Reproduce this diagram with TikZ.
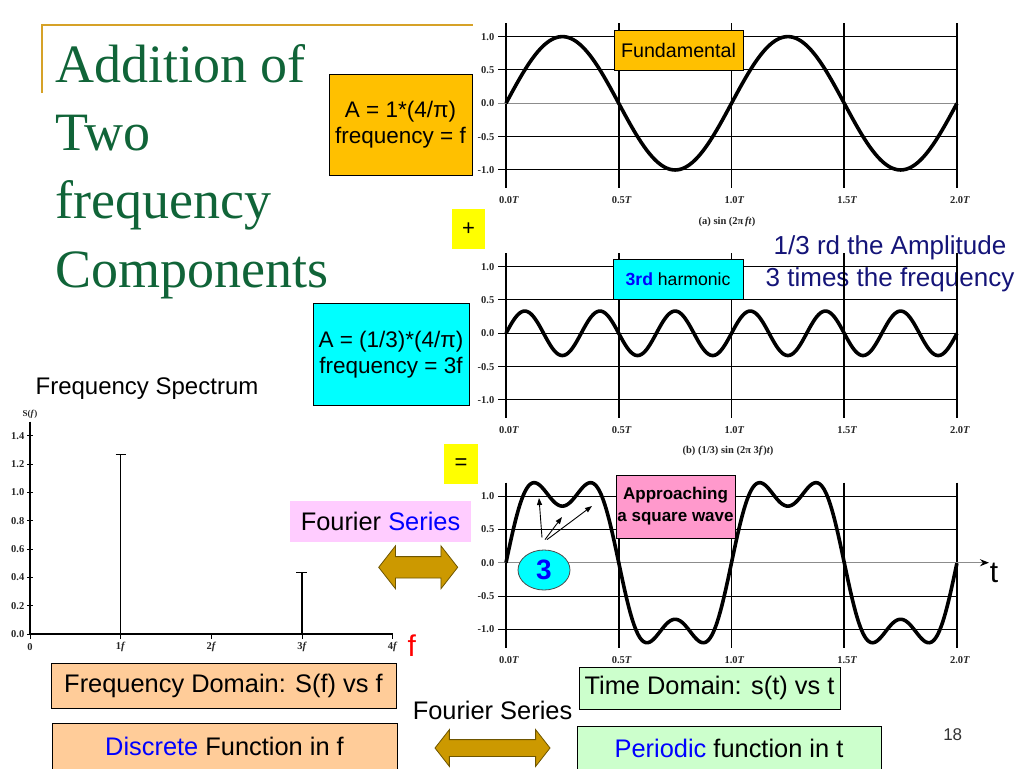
\documentclass[tikz,border=0pt]{standalone}
\usepackage{fontspec}
\setsansfont{Liberation Sans}
\newfontfamily\plotfont{Liberation Serif}
\usepackage{tikz}
\usetikzlibrary{arrows.meta,calc,positioning,shapes.arrows,shapes.geometric}
\tikzset{
  box/.style = {draw=black, line width=0.8pt, inner sep=0pt, align=center, font=\sffamily},
  f_mid/.style = {font=\sffamily\fontsize{22.5}{26.3}\selectfont},
  f_big/.style = {font=\sffamily\fontsize{25.4}{30}\selectfont},
  ticklab/.style = {inner sep=0.5pt, text=black!85, font=\plotfont\bfseries\fontsize{10.5}{12}\selectfont},
  title/.style = {inner sep=0pt, text=my_green, font=\plotfont\fontsize{54}{60}\selectfont}
}
\definecolor{my_green}{RGB}{16,100,56}
\definecolor{my_gold}{RGB}{214,162,40}
\definecolor{my_orange}{RGB}{255,192,0}
\definecolor{my_cyan}{RGB}{0,255,255}
\definecolor{my_yellow}{RGB}{255,255,0}
\definecolor{my_pink}{RGB}{255,204,255}
\definecolor{my_rose}{RGB}{255,153,204}
\definecolor{my_peach}{RGB}{255,204,153}
\definecolor{my_mint}{RGB}{204,255,204}
\definecolor{my_navy}{RGB}{20,20,120}
\definecolor{my_blue}{RGB}{0,0,255}
\definecolor{my_red}{RGB}{255,0,0}
\definecolor{my_brass}{RGB}{204,153,0}
\definecolor{my_brown}{RGB}{110,85,0}

\begin{document}
\begin{tikzpicture}[x=1pt,y=-1pt,
    wave/.style={line width=3.6pt, line join=round},
    fat_arrow/.style={shape=double arrow, draw=my_brown, fill=my_brass, line width=0.8pt,
      inner sep=0pt, double arrow tip angle=104},
    ptr/.style={-{Triangle[length=7pt,width=5pt]}, line width=0.9pt}]
\useasboundingbox (0,0) rectangle (1024,768);

% title
\draw[my_gold, line width=1.5pt] (42,93) -- (42,25) -- (473,25);
\node[title, anchor=base west] (ttl_a) at (55,82) {Addition of};
\node[title, anchor=base west] (ttl_b) at (55,150) {Two};
\node[title, anchor=base west] (ttl_c) at (55,218) {frequency};
\node[title, anchor=base west] (ttl_d) at (55,287) {Components};

% note on the harmonic
\node[text=my_navy, align=center, inner sep=0pt, font=\sffamily\fontsize{26}{32}\selectfont]
  (note_h) at (890,264) {1/3 rd the Amplitude\\3 times the frequency};

% the three time plots
\foreach \p/\yc in {1/103.3,2/333.3,3/562.7}{
  \foreach \k/\lab in {-2/1.0,-1/0.5,0/0.0,1/-0.5,2/-1.0}{
    \draw[line width=1pt] (498,{\yc+33.33*(\k)}) -- (957,{\yc+33.33*(\k)});
    \node[ticklab, anchor=east] (ytl\p\k) at (495,{\yc+33.33*(\k)}) {\lab};
  }
  \foreach \i/\lab in {0/0.0,1/0.5,2/1.0,3/1.5,4/2.0}{
    \draw[line width=1.7pt] ({506+112.75*\i},\yc-80) -- ({506+112.75*\i},\yc+85);
    \node[ticklab] (xtl\p\i) at ({509+112.75*\i},\yc+97) {\lab\textit{T}};
  }
}
\draw[black!45, line width=1.2pt] (498,103.3) -- (957,103.3);
\draw[black!45, line width=1.5pt, -{Stealth[black,length=9pt,width=7pt]}] (498,562.7) -- (989,562.7);
\node[ticklab] (cap_a) at (727,222) {(a) sin (2π\,\textit{ft})};
\node[ticklab] (cap_b) at (728,451) {(b) (1/3) sin (2π 3\textit{f})\textit{t})};

\draw[wave] plot[domain=0:2, samples=241] ({506+225.5*\x},{103.3-66.67*sin(360*\x)});
\draw[wave] plot[domain=0:2, samples=361] ({506+225.5*\x},{333.3-22.22*sin(1080*\x)});
\draw[wave] plot[domain=0:2, samples=361] ({506+225.5*\x},{562.7-84.88*(sin(360*\x)+sin(1080*\x)/3)});

\node[inner sep=0pt, font=\sffamily\fontsize{30}{34}\selectfont] (t_lab) at (994,573) {t};

% boxes on the plots
\node[box, fill=my_orange, minimum width=129, minimum height=40, font=\sffamily\fontsize{19.7}{23}\selectfont]
  (fund) at (678.5,50) {Fundamental};
\node[box, fill=my_cyan, minimum width=130, minimum height=40, font=\sffamily\fontsize{17.6}{21}\selectfont]
  (harm) at (678,279) {\textcolor{my_blue}{\bfseries 3rd} harmonic};
\node[box, fill=my_rose, minimum width=119, minimum height=63, font=\sffamily\bfseries\fontsize{17}{22}\selectfont]
  (appr) at (675.5,506.5) {Approaching\\a square wave};
\node[ellipse, draw=black!70, fill=my_cyan, line width=0.8pt, minimum width=52, minimum height=40, inner sep=0pt,
  text=my_blue, font=\sffamily\bfseries\fontsize{28}{30}\selectfont] (three) at (544,570) {3};
\coordinate (pk_a) at (539,498);
\coordinate (pk_b) at (562,517);
\coordinate (pk_c) at (592,506);
\draw[ptr] ([shift={(-2,-12)}]three.north) -- (pk_a);
\draw[ptr] ([shift={(1,-10)}]three.north) -- (pk_b);
\draw[ptr] ([shift={(3,-10)}]three.north) -- (pk_c);

% amplitude boxes
\node[box, f_mid, fill=my_orange, minimum width=143, minimum height=101] (amp_a) at (400.5,124.5)
  {A = 1*(4/π)\\frequency = f};
\node[box, f_mid, fill=my_cyan, minimum width=156, minimum height=102.5] (amp_b) at (391,354.5)
  {A = (1/3)*(4/π)\\frequency = 3f};
\node[fill=my_yellow, minimum width=33, minimum height=40, inner sep=0pt, font=\sffamily\fontsize{22}{26}\selectfont]
  (plus) at (468.5,229) {+};
\node[fill=my_yellow, minimum width=34, minimum height=40, inner sep=0pt, font=\sffamily\fontsize{22}{26}\selectfont]
  (equal) at (461,464) {=};
\node[f_big, fill=my_pink, minimum width=181, minimum height=41, inner sep=0pt]
  (fs_a) at (380.5,521.5) {Fourier \textcolor{my_blue}{Series}};
\node[fat_arrow, minimum height=79, double arrow head extend=10.7pt, inner ysep=10.3pt] (arr_a) at (418.2,567.3) {};

% spectrum
\node[inner sep=0pt, font=\sffamily\fontsize{24}{28}\selectfont] (spec) at (147,389) {Frequency Spectrum};
\node[ticklab, font=\plotfont\bfseries\fontsize{9}{10}\selectfont] (s_lab) at (30,414) {S(\textit{f})};
\draw[line width=1.5pt] (30,421.7) -- (30,634) -- (393,634);
\foreach \k/\lab in {0/0.0,1/0.2,2/0.4,3/0.6,4/0.8,5/1.0,6/1.2,7/1.4}{
  \draw[line width=1pt] (27,634-28.33*\k) -- (33,634-28.33*\k);
  \node[ticklab, anchor=east] (syl\k) at (25,634-28.33*\k) {\lab};
}
\foreach \i/\lab in {0/0,1/{1\textit{f}},2/{2\textit{f}},3/{3\textit{f}},4/{4\textit{f}}}{
  \draw[line width=1pt] (30+90.7*\i,634) -- (30+90.7*\i,639);
  \node[ticklab] (sxl\i) at (30+90.7*\i,647) {\lab};
}
\draw[line width=1.5pt] (120.7,634) -- (120.7,454.3) (115.5,454.3) -- (126,454.3);
\draw[line width=1.5pt] (302,634) -- (302,572.7) (296,572.7) -- (307,572.7);
\node[text=my_red, inner sep=0pt, font=\sffamily\fontsize{30}{34}\selectfont] (f_lab) at (411.7,646) {f};

% bottom row
\node[box, f_big, fill=my_peach, minimum width=345, minimum height=45] (fdom) at (223.5,685.5)
  {Frequency Domain: S(f) vs f};
\node[box, f_big, fill=my_peach, minimum width=345, minimum height=47] (disc) at (224.5,746.5)
  {\textcolor{my_blue}{Discrete} Function in f};
\node[box, f_big, fill=my_mint, minimum width=261, minimum height=42] (tdom) at (709.5,688)
  {Time Domain: s(t) vs t};
\node[box, f_big, fill=my_mint, minimum width=304, minimum height=43] (peri) at (729,748)
  {\textcolor{my_blue}{Periodic} function in t};
\node[fat_arrow, minimum height=115, double arrow head extend=10pt, inner ysep=8pt] (arr_b) at (492.5,748) {};
\node[f_big, inner sep=0pt, above=19pt of arr_b.north] (fs_b) {Fourier Series};
\node[inner sep=0pt, text=black!80, font=\sffamily\fontsize{17}{20}\selectfont] (page) at (952.7,735) {18};
\end{tikzpicture}
\end{document}
